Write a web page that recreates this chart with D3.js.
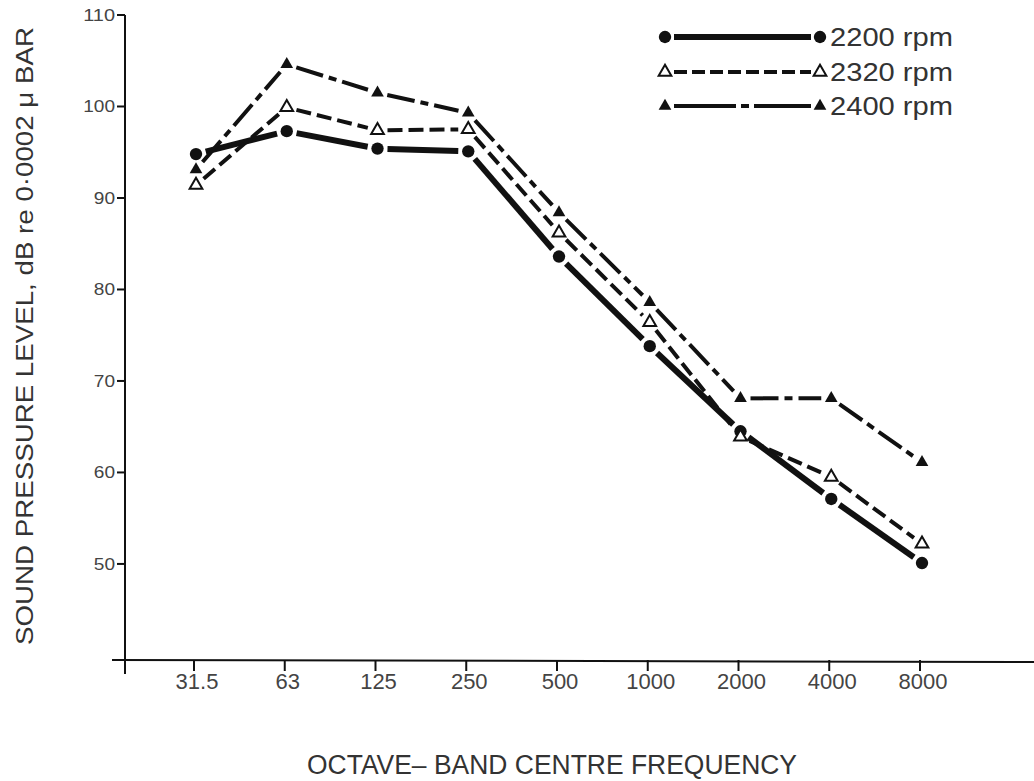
<!DOCTYPE html>
<html>
<head>
<meta charset="utf-8">
<script src="https://cdn.jsdelivr.net/npm/d3@7"></script>
<style>
  html, body { margin: 0; padding: 0; background: #fff; }
  svg { display: block; font-family: "Liberation Sans", Arial, sans-serif; }
</style>
</head>
<body>
<svg id="chart" width="1034" height="781"></svg>
<script>
// ---- data ----
const freqLabels = ["31.5", "63", "125", "250", "500", "1000", "2000", "4000", "8000"];
const rpm2200 = [94.8, 97.3, 95.4, 95.1, 83.6, 73.8, 64.5, 57.1, 50.1];
const rpm2320 = [91.4, 99.9, 97.4, 97.5, 86.2, 76.4, 63.9, 59.5, 52.2];
const rpm2400 = [93.1, 104.6, 101.5, 99.3, 88.4, 78.6, 68.1, 68.1, 61.1];
const seriesNames = ["2200 rpm", "2320 rpm", "2400 rpm"];
const yTicks = [50, 60, 70, 80, 90, 100, 110];
const yTitle = "SOUND PRESSURE LEVEL, dB re 0\u00B70002 \u03BC BAR";
const xTitle = "OCTAVE\u2013 BAND CENTRE FREQUENCY";

// ---- layout ----
const svg = d3.select("#chart");
const axisX = 125, axisY = 660;
const x = d3.scalePoint().domain(freqLabels).range([196, 922]);
const y = d3.scaleLinear().domain([39.5, 110]).range([axisY, 15]);

const ink = "#111";
const textCol = "#444";

// axes lines
svg.append("line").attr("x1", axisX).attr("x2", axisX).attr("y1", y(110)).attr("y2", 674)
  .attr("stroke", ink).attr("stroke-width", 2);
svg.append("line").attr("x1", 112).attr("x2", 1034).attr("y1", axisY).attr("y2", axisY + 2)
  .attr("stroke", ink).attr("stroke-width", 2);

// y ticks
const yt = svg.append("g");
yTicks.forEach(v => {
  yt.append("line").attr("x1", axisX - 8).attr("x2", axisX).attr("y1", y(v)).attr("y2", y(v))
    .attr("stroke", ink).attr("stroke-width", 2);
  const s = String(v);
  yt.append("text").attr("x", axisX - 10).attr("y", y(v) + 6)
    .attr("text-anchor", "end").attr("font-size", 16).attr("fill", textCol)
    .attr("textLength", s.length * 10.6).attr("lengthAdjust", "spacingAndGlyphs")
    .text(s);
});

// x ticks
const xt = svg.append("g");
freqLabels.forEach(f => {
  const px = x(f) - 2;
  xt.append("line").attr("x1", px).attr("x2", px).attr("y1", axisY).attr("y2", axisY + 11)
    .attr("stroke", ink).attr("stroke-width", 2);
  xt.append("text").attr("x", px + 3).attr("y", 689)
    .attr("text-anchor", "middle").attr("font-size", 22).attr("fill", textCol)
    .text(f);
});

// titles
svg.append("text")
  .attr("transform", "translate(33,336) rotate(-90)")
  .attr("text-anchor", "middle").attr("font-size", 23).attr("fill", "#333")
  .attr("textLength", 618).attr("lengthAdjust", "spacingAndGlyphs")
  .text(yTitle);
svg.append("text")
  .attr("x", 552).attr("y", 774)
  .attr("text-anchor", "middle").attr("font-size", 27).attr("fill", "#333")
  .attr("textLength", 490).attr("lengthAdjust", "spacingAndGlyphs")
  .text(xTitle);

// ---- series ----
const series = [
  { name: seriesNames[0], values: rpm2200, width: 6, dash: null, marker: "circle", legendDash: null },
  { name: seriesNames[1], values: rpm2320, width: 4, dash: "15,6", marker: "openTri", legendDash: "13,5" },
  { name: seriesNames[2], values: rpm2400, width: 4, dash: "28,6,8,6", marker: "filledTri", legendDash: "62,5,8,5" }
];

const triPath = d3.symbol().type(d3.symbolTriangle).size(70);
const circPath = d3.symbol().type(d3.symbolCircle).size(120);

function drawMarker(g, type, cx, cy) {
  if (type === "circle") {
    g.append("path").attr("d", circPath()).attr("transform", `translate(${cx},${cy})`).attr("fill", ink);
  } else if (type === "filledTri") {
    g.append("path").attr("d", triPath()).attr("transform", `translate(${cx},${cy})`).attr("fill", ink);
  } else {
    g.append("path").attr("d", triPath()).attr("transform", `translate(${cx},${cy})`)
      .attr("fill", "#fff").attr("stroke", ink).attr("stroke-width", 2);
  }
}

function drawSeg(g, x1, y1, x2, y2, gap, s, dash) {
  const dx = x2 - x1, dy = y2 - y1, len = Math.hypot(dx, dy);
  const ux = dx / len, uy = dy / len;
  const l = g.append("line")
    .attr("x1", x1 + ux * gap).attr("y1", y1 + uy * gap)
    .attr("x2", x2 - ux * gap).attr("y2", y2 - uy * gap)
    .attr("stroke", ink).attr("stroke-width", s.width);
  if (dash) l.attr("stroke-dasharray", dash);
}

const plot = svg.append("g");
series.forEach(s => {
  const g = plot.append("g");
  const pts = freqLabels.map((f, i) => [x(f), y(s.values[i])]);
  for (let i = 0; i < pts.length - 1; i++) {
    drawSeg(g, pts[i][0], pts[i][1], pts[i + 1][0], pts[i + 1][1], 10, s, s.dash);
  }
  pts.forEach(p => drawMarker(g, s.marker, p[0], p[1]));
});

// ---- legend ----
const legend = svg.append("g");
const legendRows = [37, 72, 106];
series.forEach((s, i) => {
  const ly = legendRows[i];
  const x1 = 665, x2 = 820;
  drawSeg(legend, x1, ly, x2, ly, 9, s, s.legendDash);
  drawMarker(legend, s.marker, x1, ly);
  drawMarker(legend, s.marker, x2, ly);
  legend.append("text").attr("x", 830).attr("y", ly + 9)
    .attr("font-size", 25).attr("fill", "#333")
    .attr("textLength", 123).attr("lengthAdjust", "spacingAndGlyphs")
    .text(s.name);
});
</script>
</body>
</html>
